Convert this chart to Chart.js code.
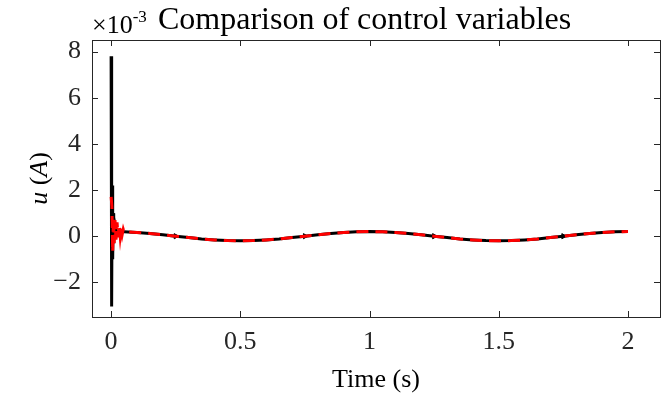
<!DOCTYPE html>
<html>
<head>
<meta charset="utf-8">
<script src="https://cdn.jsdelivr.net/npm/chart.js@4/dist/chart.umd.min.js"></script>
<style>
  html, body { margin: 0; padding: 0; background: #fff; }
  #wrap { width: 668px; height: 397px; }
</style>
</head>
<body>
<div id="wrap"><canvas id="uChart" width="668" height="397"></canvas></div>
<script>
// values are in units of 1e-3 A, time in s
const blackStartTime = [0, 0.002, 0.004, 0.006, 0.008, 0.010, 0.012, 0.014, 0.017, 0.020, 0.025, 0.030];
const blackStartU = [7.8, -3.05, 2.2, -1.0, 1.0, -0.3, 0.6, 0.0, 0.35, 0.15, 0.22, 0.19];

const redStartTime = [0, 0.003, 0.006, 0.009, 0.012, 0.015, 0.019, 0.023, 0.027, 0.031, 0.035, 0.039, 0.043, 0.047];
const redStartU = [1.7, 1.3, -0.7, 0.85, -0.3, 0.7, -0.15, 0.6, -0.05, 0.5, 0.0, 0.4, 0.08, 0.3];

const steadyTime = [0.05, 0.10, 0.15, 0.20, 0.25, 0.30, 0.35, 0.40, 0.45, 0.50,
  0.55, 0.60, 0.65, 0.70, 0.75, 0.80, 0.85, 0.90, 0.95, 1.00,
  1.05, 1.10, 1.15, 1.20, 1.25, 1.30, 1.35, 1.40, 1.45, 1.50,
  1.55, 1.60, 1.65, 1.70, 1.75, 1.80, 1.85, 1.90, 1.95, 2.00];
const steadyU = [0.19, 0.16, 0.12, 0.06, 0.0, -0.06, -0.12, -0.16, -0.19, -0.2,
  -0.19, -0.16, -0.12, -0.06, 0.0, 0.06, 0.12, 0.16, 0.19, 0.2,
  0.19, 0.16, 0.12, 0.06, 0.0, -0.06, -0.12, -0.16, -0.19, -0.2,
  -0.19, -0.16, -0.12, -0.06, 0.0, 0.06, 0.12, 0.16, 0.19, 0.2];

const markerTimes = [0.25, 0.75, 1.25, 1.75];

const xTickValues = [0, 0.5, 1, 1.5, 2];
const xTickLabels = ['0', '0.5', '1', '1.5', '2'];
const yTickValues = [-2, 0, 2, 4, 6, 8];
const yTickLabels = ['\u22122', '0', '2', '4', '6', '8'];

const toPoints = (ts, us) => ts.map((t, i) => ({ x: t, y: us[i] }));
const blackData = toPoints(blackStartTime.concat(steadyTime), blackStartU.concat(steadyU));
const redData = toPoints(redStartTime.concat(steadyTime), redStartU.concat(steadyU));

const FONT = '"Liberation Serif", "Times New Roman", serif';
const AXIS_COLOR = '#262626';

// box, inward ticks and the texts matlab puts around the axes
const decorations = {
  id: 'decorations',
  afterDraw(chart) {
    const { ctx, chartArea: a, scales } = chart;
    const tick = 6;
    ctx.save();
    ctx.strokeStyle = AXIS_COLOR;
    ctx.lineWidth = 1;
    ctx.beginPath();
    xTickValues.forEach(v => {
      const px = Math.round(scales.x.getPixelForValue(v)) + 0.5;
      ctx.moveTo(px, a.bottom); ctx.lineTo(px, a.bottom - tick);
      ctx.moveTo(px, a.top); ctx.lineTo(px, a.top + tick);
    });
    yTickValues.forEach(v => {
      const py = Math.round(scales.y.getPixelForValue(v)) + 0.5;
      ctx.moveTo(a.left, py); ctx.lineTo(a.left + tick, py);
      ctx.moveTo(a.right, py); ctx.lineTo(a.right - tick, py);
    });
    ctx.stroke();
    ctx.strokeRect(Math.round(a.left) + 0.5, Math.round(a.top) + 0.5,
      Math.round(a.right - a.left), Math.round(a.bottom - a.top));

    ctx.fillStyle = '#000';
    ctx.textBaseline = 'alphabetic';
    ctx.textAlign = 'left';
    // exponent label
    ctx.font = '26px ' + FONT;
    ctx.fillText('\u00d710', 92, 33);
    const w = ctx.measureText('\u00d710').width;
    ctx.font = '17px ' + FONT;
    ctx.fillText('-3', 92 + w, 22);

    // title
    ctx.font = '32px ' + FONT;
    ctx.fillText('Comparison of control variables', 158, 29);

    // x label
    ctx.font = '26px ' + FONT;
    ctx.textAlign = 'center';
    ctx.fillText('Time (s)', (a.left + a.right) / 2, 387);

    // y label with italic symbols
    ctx.translate(47, (a.top + a.bottom) / 2);
    ctx.rotate(-Math.PI / 2);
    const parts = [['u', 'italic '], [' (', ''], ['A', 'italic '], [')', '']];
    let total = 0;
    parts.forEach(p => { ctx.font = p[1] + '26px ' + FONT; total += ctx.measureText(p[0]).width; });
    let cx = -total / 2;
    ctx.textAlign = 'left';
    parts.forEach(p => {
      ctx.font = p[1] + '26px ' + FONT;
      ctx.fillText(p[0], cx, 0);
      cx += ctx.measureText(p[0]).width;
    });
    ctx.restore();
  }
};

const chart = new Chart(document.getElementById('uChart'), {
  type: 'line',
  data: {
    datasets: [{
      label: 'u black',
      data: blackData,
      borderColor: '#000',
      backgroundColor: '#000',
      borderWidth: 3,
      tension: 0,
      order: 1,
      pointStyle: 'triangle',
      rotation: 90,
      pointRadius: c => (c.raw && markerTimes.includes(c.raw.x)) ? 3 : 0,
      pointBorderWidth: 1
    }, {
      label: 'u red',
      data: redData,
      borderColor: '#ff0000',
      borderWidth: 3,
      borderDash: [12, 7],
      tension: 0,
      order: 0,
      pointRadius: 0
    }]
  },
  options: {
    responsive: false,
    devicePixelRatio: 1,
    animation: false,
    layout: { padding: { left: 0, top: 40, right: 8, bottom: 0 } },
    plugins: { legend: { display: false }, tooltip: { enabled: false }, title: { display: false } },
    scales: {
      x: {
        type: 'linear',
        min: -0.074,
        max: 2.124,
        grid: { display: false, drawTicks: false },
        border: { display: false },
        afterBuildTicks: s => { s.ticks = xTickValues.map(v => ({ value: v })); },
        afterFit: s => { s.height = 80; },
        ticks: {
          autoSkip: false,
          maxRotation: 0,
          padding: 10,
          color: AXIS_COLOR,
          font: { family: FONT, size: 26 },
          callback: (v, i) => xTickLabels[i]
        }
      },
      y: {
        min: -3.5,
        max: 8.5,
        grid: { display: false, drawTicks: false },
        border: { display: false },
        afterBuildTicks: s => { s.ticks = yTickValues.map(v => ({ value: v })); },
        afterFit: s => { s.width = 92; },
        ticks: {
          autoSkip: false,
          padding: 11,
          color: AXIS_COLOR,
          font: { family: FONT, size: 26 },
          callback: (v, i) => yTickLabels[i]
        }
      }
    }
  },
  plugins: [decorations]
});
</script>
</body>
</html>
